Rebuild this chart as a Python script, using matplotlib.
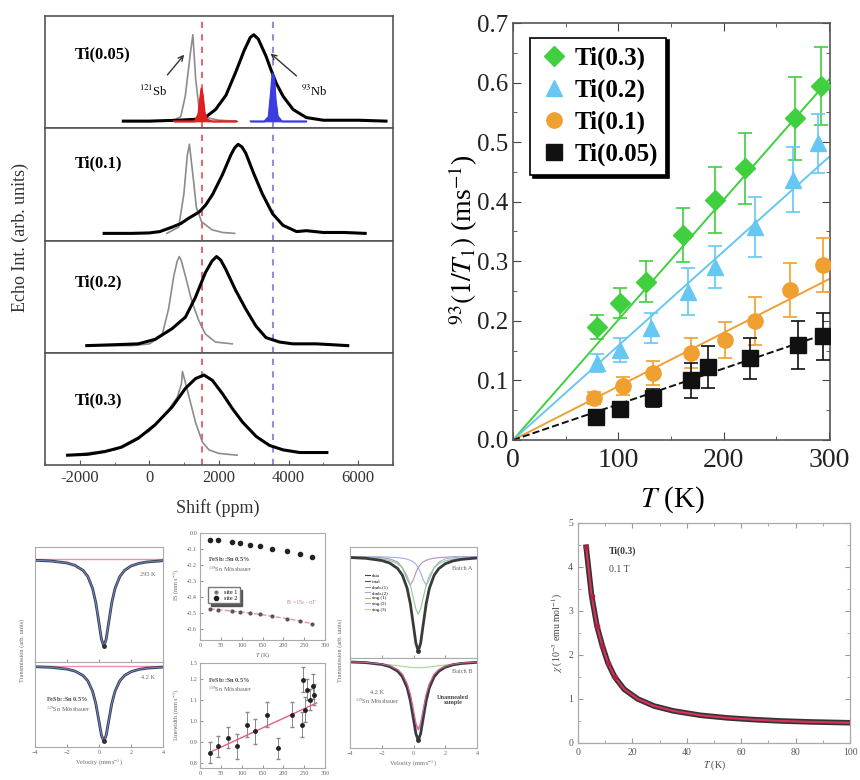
import matplotlib
matplotlib.use('Agg')
import matplotlib.pyplot as plt
from matplotlib.lines import Line2D
from matplotlib.ticker import MultipleLocator

plt.rcParams['font.family'] = ['Liberation Serif', 'DejaVu Serif']
plt.rcParams['mathtext.fontset'] = 'stix'

# ---------------- NMR spectra (top left) ----------------
panel_names = ['Ti(0.05)', 'Ti(0.1)', 'Ti(0.2)', 'Ti(0.3)']

shift_005 = [-750, 0, 800, 1300, 1600, 1900, 2200, 2480, 2720, 2900, 3000, 3130, 3350, 3500, 3640,
             3840, 4130, 4510, 5000, 6000, 6800]
echo_005 = [0.0, 0.0, 0.01, 0.02, 0.04, 0.13, 0.29, 0.55, 0.79, 0.94, 0.97, 0.92, 0.73, 0.57, 0.43,
            0.28, 0.13, 0.04, 0.01, 0.01, 0.0]
ref_shift_005 = [0, 650, 900, 1030, 1180, 1250, 1330, 1430, 1620, 2000, 2500]
ref_echo_005 = [0.0, 0.0, 0.05, 0.28, 0.77, 0.97, 0.47, 0.13, 0.04, 0.01, 0.0]
red_shift = [700, 1300, 1400, 1450, 1490, 1530, 1580, 1650, 1800, 2500]
red_echo = [0.0, 0.0, 0.08, 0.25, 0.37, 0.29, 0.10, 0.02, 0.0, 0.0]
blue_shift = [2900, 3300, 3420, 3480, 3530, 3580, 3620, 3680, 3800, 4500]
blue_echo = [0.0, 0.0, 0.05, 0.30, 0.54, 0.49, 0.25, 0.06, 0.0, 0.0]

shift_01 = [-1300, -500, 0, 300, 650, 900, 1130, 1430, 1620, 1820, 2100, 2340, 2450, 2550, 2660,
            2770, 3010, 3250, 3540, 3840, 4230, 4510, 5000, 5600, 6200]
echo_01 = [0.0, 0.0, 0.005, 0.02, 0.07, 0.11, 0.17, 0.24, 0.32, 0.44, 0.66, 0.88, 0.96, 1.0, 0.97,
           0.90, 0.66, 0.44, 0.22, 0.09, 0.02, 0.03, 0.01, 0.01, 0.0]
ref_shift_01 = [500, 840, 990, 1090, 1150, 1260, 1350, 1500, 1800, 2100, 2450]
ref_echo_01 = [0.0, 0.07, 0.44, 0.88, 1.0, 0.62, 0.29, 0.13, 0.04, 0.01, 0.0]

shift_02 = [-1800, -1000, -320, 160, 650, 1035, 1320, 1610, 1800, 1930, 2050, 2190, 2480, 2770,
            3060, 3350, 3740, 4120, 4800, 5700]
echo_02 = [0.0, 0.01, 0.02, 0.07, 0.19, 0.32, 0.54, 0.82, 0.95, 1.0, 0.96, 0.86, 0.62, 0.41,
           0.22, 0.09, 0.04, 0.02, 0.02, 0.0]
ref_shift_02 = [-1800, -500, 0, 360, 550, 700, 800, 860, 920, 1035, 1225, 1420, 1610, 1900, 2380]
ref_echo_02 = [0.0, 0.0, 0.02, 0.11, 0.41, 0.78, 0.95, 1.0, 0.95, 0.78, 0.49, 0.28, 0.13, 0.04, 0.02]

shift_03 = [-2350, -1770, -1290, -800, -320, 160, 650, 1035, 1325, 1570, 1810, 2100, 2390, 2680,
            3070, 3450, 3840, 4320, 5100]
echo_03 = [0.03, 0.04, 0.07, 0.12, 0.22, 0.37, 0.57, 0.78, 0.89, 0.93, 0.87, 0.72, 0.55, 0.40,
           0.24, 0.14, 0.09, 0.06, 0.06]
ref_shift_03 = [-2350, -1000, 0, 500, 800, 920, 950, 1130, 1325, 1520, 1710, 2000, 2520]
ref_echo_03 = [0.03, 0.09, 0.30, 0.51, 0.68, 0.83, 0.97, 0.70, 0.40, 0.18, 0.09, 0.05, 0.03]

spectra = [(shift_005, echo_005, ref_shift_005, ref_echo_005),
           (shift_01, echo_01, ref_shift_01, ref_echo_01),
           (shift_02, echo_02, ref_shift_02, ref_echo_02),
           (shift_03, echo_03, ref_shift_03, ref_echo_03)]
label_y = [0.75, 0.79, 0.71, 0.65]
red_line_shift = 1500
blue_line_shift = 3550

# ---------------- 1/T1 vs T (top right) ----------------
T_03 = [80, 102, 126, 161, 192, 220, 268, 292]
r_03 = [0.19, 0.23, 0.266, 0.344, 0.403, 0.456, 0.54, 0.594]
e_03 = [0.02, 0.025, 0.035, 0.045, 0.055, 0.06, 0.07, 0.065]
T_02 = [80, 102, 131, 166, 192, 230, 266, 290]
r_02 = [0.129, 0.151, 0.188, 0.249, 0.29, 0.358, 0.437, 0.498]
e_02 = [0.015, 0.02, 0.025, 0.04, 0.035, 0.05, 0.055, 0.05]
T_01 = [77, 104, 133, 169, 201, 230, 263, 294]
r_01 = [0.07, 0.09, 0.112, 0.146, 0.168, 0.2, 0.252, 0.294]
e_01 = [0.01, 0.015, 0.02, 0.025, 0.03, 0.04, 0.045, 0.045]
T_005 = [79, 102, 133, 169, 185, 225, 271, 294]
r_005 = [0.039, 0.052, 0.07, 0.1, 0.123, 0.137, 0.16, 0.174]
e_005 = [0.005, 0.008, 0.015, 0.03, 0.035, 0.035, 0.04, 0.04]
T_fit = [0, 300]
fit_03 = [0, 0.605]
fit_02 = [0, 0.475]
fit_01 = [0, 0.27]
fit_005 = [0, 0.18]

# ---------------- Mossbauer-type small panels (bottom left) ----------------
vel = [-4, -3, -2, -1.5, -1, -0.7, -0.4, -0.2, 0, 0.15, 0.3, 0.45, 0.6, 0.8, 1.0, 1.3, 1.6, 2, 2.5, 3, 4]
trans_c1 = [0.990, 0.984, 0.968, 0.948, 0.907, 0.856, 0.757, 0.640, 0.471, 0.340, 0.280, 0.340, 0.471,
            0.640, 0.757, 0.856, 0.907, 0.943, 0.965, 0.976, 0.987]
trans_c2 = [0.989, 0.982, 0.963, 0.941, 0.894, 0.836, 0.723, 0.590, 0.397, 0.248, 0.180, 0.248, 0.397,
            0.590, 0.723, 0.836, 0.894, 0.935, 0.960, 0.973, 0.985]
comp_green = [0.993, 0.989, 0.977, 0.964, 0.936, 0.900, 0.831, 0.750, 0.633, 0.542, 0.500, 0.542, 0.633,
              0.750, 0.831, 0.900, 0.936, 0.960, 0.975, 0.983, 0.991]
comp_purple = [0.997, 0.995, 0.988, 0.978, 0.950, 0.902, 0.800, 0.750, 0.800, 0.858, 0.902, 0.931, 0.950,
               0.965, 0.975, 0.983, 0.988, 0.992, 0.995, 0.996, 0.998]
comp_pink = [0.990, 0.984, 0.968, 0.950, 0.910, 0.860, 0.760, 0.650, 0.480, 0.350, 0.290, 0.350, 0.480,
             0.650, 0.760, 0.860, 0.910, 0.945, 0.966, 0.977, 0.988]
comp_wide = [0.985, 0.978, 0.968, 0.960, 0.950, 0.944, 0.938, 0.934, 0.931, 0.930, 0.929, 0.930, 0.931,
             0.934, 0.938, 0.944, 0.950, 0.958, 0.967, 0.975, 0.985]
f_legend = ['data', 'total', 'doub.(1)', 'doub.(2)', 'sing.(1)', 'sing.(2)', 'sing.(3)']
f_colors = ['#444444', '#555555', '#b08fc0', '#9fb0e0', '#90c890', '#c0a0d0', '#b8d890']

temp_d = [24, 44, 76, 96, 120, 144, 172, 208, 240, 268]
site1_d = [0.938, 0.932, 0.917, 0.905, 0.892, 0.877, 0.855, 0.83, 0.80, 0.778]
site2_d = [0.292, 0.283, 0.271, 0.262, 0.252, 0.240, 0.222, 0.200, 0.178, 0.154]

temp_e = [24, 44, 68, 88, 112, 132, 160, 188, 220, 244, 248, 256, 252, 264, 272, 274]
width_e = [0.143, 0.206, 0.286, 0.206, 0.413, 0.349, 0.508, 0.190, 0.508, 0.413, 0.841, 0.746, 0.556,
           0.651, 0.778, 0.698]
err_e = [0.10, 0.10, 0.10, 0.12, 0.12, 0.12, 0.12, 0.10, 0.12, 0.12, 0.12, 0.10, 0.12, 0.10, 0.12, 0.10]
line_e_T = [24, 280]
line_e_w = [0.15, 0.62]

# ---------------- susceptibility (bottom right) ----------------
T_chi = [3, 5, 7, 9, 11, 13.5, 17, 22, 28, 35, 45, 55, 65, 75, 85, 100]
chi = [4.45, 3.35, 2.65, 2.2, 1.82, 1.5, 1.22, 1.0, 0.84, 0.73, 0.63, 0.57, 0.53, 0.5, 0.48, 0.46]

W, H = 860, 780
fig = plt.figure(figsize=(W / 100, H / 100), dpi=100)


def px_axes(l, t, r, b):
    return fig.add_axes([l / W, 1 - b / H, (r - l) / W, (b - t) / H])


# ===== NMR spectra =====
sub_h = (465 - 16) / 4
axes_a = []
for i, (sx, sy, rx, ry) in enumerate(spectra):
    ax = px_axes(45, 16 + i * sub_h, 393, 16 + (i + 1) * sub_h)
    axes_a.append(ax)
    ax.plot(rx, ry, color='#8c8c8c', lw=1.2, zorder=2)
    ax.plot(sx, sy, color='black', lw=2.2, zorder=3)
    ax.axvline(red_line_shift, color='#e0505a', lw=1.5, ls=(0, (3, 3)), alpha=0.85, zorder=1)
    ax.axvline(blue_line_shift, color='#7c7cd8', lw=1.5, ls=(0, (3, 3)), alpha=0.85, zorder=1)
    ax.set_xlim(-3000, 7000)
    ax.set_ylim(-0.08, 1.18)
    ax.set_yticks([])
    ax.text(-2150, label_y[i], panel_names[i], fontsize=12, fontweight='bold', va='center')
    for s in ax.spines.values():
        s.set_color('#555555')
        s.set_linewidth(1.2)
    ax.xaxis.set_major_locator(MultipleLocator(2000))
    ax.xaxis.set_minor_locator(MultipleLocator(1000))
    ax.tick_params(axis='x', which='both', direction='in', colors='#555555', labelsize=12,
                   labelcolor='#333333')
    if i < 3:
        ax.tick_params(axis='x', which='both', length=0, labelbottom=False)

ax0 = axes_a[0]
ax0.fill_between(red_shift, red_echo, color='#e02020', lw=1, zorder=4)
ax0.plot(red_shift, red_echo, color='#e02020', lw=1, zorder=4)
ax0.fill_between(blue_shift, blue_echo, color='#3c3ce0', lw=1, zorder=4)
ax0.plot(blue_shift, blue_echo, color='#3c3ce0', lw=1, zorder=4)
ax0.annotate('$^{121}$Sb', xy=(1050, 0.77), xytext=(120, 0.33), fontsize=9, ha='center', va='center',
             arrowprops=dict(arrowstyle='->', color='#333333', lw=1.0, shrinkA=6))
ax0.annotate('$^{93}$Nb', xy=(3420, 0.78), xytext=(4750, 0.33), fontsize=9, ha='center', va='center',
             arrowprops=dict(arrowstyle='->', color='#333333', lw=1.0, shrinkA=6))
axes_a[3].set_xticks([-2000, 0, 2000, 4000, 6000])
axes_a[3].set_xticklabels(['-2000', '0', '2000', '4000', '6000'])
fig.text(218 / W, 1 - 508 / H, 'Shift (ppm)', fontsize=13, ha='center', va='center', color='#333333')
fig.text(20 / W, 1 - 238 / H, 'Echo Int. (arb. units)', fontsize=13, rotation=90, ha='center',
         va='center', color='#333333')

# ===== 1/T1 vs T =====
axb = px_axes(513, 23, 830, 440)
series = [(T_03, r_03, e_03, fit_03, '#3fcf3f', 'D', 'Ti(0.3)', 10),
          (T_02, r_02, e_02, fit_02, '#66c8f2', '^', 'Ti(0.2)', 11),
          (T_01, r_01, e_01, fit_01, '#f0a030', 'o', 'Ti(0.1)', 11),
          (T_005, r_005, e_005, fit_005, '#111111', 's', 'Ti(0.05)', 11)]
handles = []
for tx, ry, ey, fy, col, mk, lab, ms in series:
    ls = '--' if col == '#111111' else '-'
    axb.plot(T_fit, fy, color=col, lw=1.4, ls=ls, zorder=2)
    axb.errorbar(tx, ry, yerr=ey, fmt=mk, color=col, ms=ms, mec=col, ecolor=col, elinewidth=1.2,
                 capsize=5, capthick=1.2, zorder=3)
    handles.append(Line2D([], [], ls='none', marker=mk, color=col, ms=ms, label=lab))
axb.set_xlim(0, 301)
axb.set_ylim(0, 0.7)
axb.xaxis.set_major_locator(MultipleLocator(100))
axb.xaxis.set_minor_locator(MultipleLocator(50))
axb.yaxis.set_major_locator(MultipleLocator(0.1))
axb.yaxis.set_minor_locator(MultipleLocator(0.05))
axb.yaxis.set_major_formatter(matplotlib.ticker.FormatStrFormatter('%.1f'))
axb.tick_params(which='both', direction='in', top=True, right=True, colors='#444444')
axb.tick_params(which='major', length=6)
axb.tick_params(which='minor', length=3)
axb.tick_params(axis='y', labelsize=18, labelcolor='#222222')
axb.tick_params(axis='x', labelsize=20, labelcolor='#222222', pad=6)
for s in axb.spines.values():
    s.set_color('#555555')
    s.set_linewidth(1.2)
leg = axb.legend(handles=handles, loc='upper left', bbox_to_anchor=(0.055, 0.965), borderaxespad=0,
                 frameon=True, fancybox=False, shadow={'color': 'black', 'alpha': 1},
                 prop={'size': 18, 'weight': 'bold'}, handletextpad=0.2, labelspacing=0.35,
                 handlelength=1.2, borderpad=0.35)
leg.get_frame().set_edgecolor('black')
leg.get_frame().set_linewidth(1.2)
fig.text(463 / W, 1 - 240 / H, '$^{93}$$(1/T_1)$ (ms$^{-1}$)', fontsize=20, rotation=90, ha='center',
         va='center')
fig.text(672 / W, 1 - 500 / H, '$T$ (K)', fontsize=21, ha='center', va='center')

# ===== small panels: common styling =====
tiny = 4.5
grey_txt = '#666666'


def tiny_style(ax):
    ax.tick_params(which='both', direction='in', labelsize=tiny, length=2, colors='#999999',
                   labelcolor=grey_txt, pad=2)
    for s in ax.spines.values():
        s.set_color('#aaaaaa')
        s.set_linewidth(0.8)


# C: two stacked spectra
axc1 = px_axes(35, 547, 163, 662)
axc2 = px_axes(35, 662, 163, 747)
for ax, tr, lab in [(axc1, trans_c1, '295 K'), (axc2, trans_c2, '4.2 K')]:
    ax.axhline(1.0, color='#f08cb0', lw=1.0)
    ax.plot(vel, tr, color='#3a3a4a', lw=2.0)
    ax.plot(vel, tr, color='#7090d0', lw=0.7)
    ax.plot([vel[10]], [tr[10]], 'o', color='#333333', ms=2.5)
    ax.set_xlim(-4, 4)
    ax.set_yticks([])
    ax.text(3.5, 0.86, lab, fontsize=tiny, ha='right', color=grey_txt)
    tiny_style(ax)
axc1.set_ylim(0.15, 1.1)
axc2.set_ylim(0.12, 1.04)
axc1.set_xticks([-4, -2, 0, 2, 4])
axc1.tick_params(labelbottom=False)
axc2.set_xticks([-4, -2, 0, 2, 4])
axc2.text(-3.3, 0.62, 'FeSb$_2$:Sn 0.5%', fontsize=tiny, fontweight='bold', color='#444444')
axc2.text(-3.3, 0.50, '$^{119}$Sn Mössbauer', fontsize=tiny, color=grey_txt)
axc2.set_xlabel('Velocity (mm s$^{-1}$)', fontsize=tiny, color=grey_txt, labelpad=2)
fig.text(22 / W, 1 - 650 / H, 'Transmission (arb. units)', fontsize=tiny, rotation=90, ha='center',
         va='center', color=grey_txt)

# D: temperature dependence of two sites
axd = px_axes(200, 533, 325, 640)
axd.plot(temp_d, site1_d, 'o', color='#222222', ms=3)
axd.plot(temp_d, site2_d, '--', color='#f090b0', lw=1.0)
axd.plot(temp_d, site2_d, 'o', color='#555555', ms=2)
axd.set_xlim(0, 300)
axd.set_ylim(0, 1)
axd.set_xticks([0, 50, 100, 150, 200, 250, 300])
axd.set_yticks([0.1, 0.25, 0.4, 0.55, 0.7, 0.85, 1.0])
axd.set_yticklabels(['-0.6', '-0.5', '-0.4', '-0.3', '-0.2', '-0.1', '0.0'])
tiny_style(axd)
axd.text(20, 0.74, 'FeSb$_2$:Sn 0.5%', fontsize=tiny, fontweight='bold', color='#444444')
axd.text(20, 0.64, '$^{119}$Sn Mössbauer', fontsize=tiny, color=grey_txt)
axd.text(280, 0.34, 'IS = IS$_0$ - $\\alpha T$', fontsize=tiny - 0.5, ha='right', color='#c08090')
axd.legend(handles=[Line2D([], [], ls='none', marker='o', ms=2, color='#777777', label='site 1'),
                    Line2D([], [], ls='none', marker='o', ms=3, color='#222222', label='site 2')],
           loc='upper left', bbox_to_anchor=(0.04, 0.52), prop={'size': tiny}, fancybox=False,
           shadow={'color': '#555555', 'alpha': 1}, edgecolor='#777777', borderpad=0.3,
           handletextpad=0.3, labelspacing=0.2)
axd.set_xlabel('$T$ (K)', fontsize=tiny, color=grey_txt, labelpad=2)
fig.text(177 / W, 1 - 585 / H, 'IS (mm s$^{-1}$)', fontsize=tiny, rotation=90, ha='center', va='center',
         color=grey_txt)

# E: linewidth vs T
axe = px_axes(200, 663, 325, 768)
axe.errorbar(temp_e, width_e, yerr=err_e, fmt='o', color='#222222', ms=2.5, ecolor='#888888',
             elinewidth=0.7, capsize=1.5)
axe.plot(line_e_T, line_e_w, color='#e06080', lw=1.0)
axe.set_xlim(0, 300)
axe.set_ylim(0, 1)
axe.set_xticks([0, 50, 100, 150, 200, 250, 300])
axe.set_yticks([0.05, 0.25, 0.45, 0.65, 0.85, 1.0])
axe.set_yticklabels(['0.8', '0.9', '1.0', '1.1', '1.2', '1.3'])
tiny_style(axe)
axe.text(20, 0.82, 'FeSb$_2$:Sn 0.5%', fontsize=tiny, fontweight='bold', color='#444444')
axe.text(20, 0.72, '$^{119}$Sn Mössbauer', fontsize=tiny, color=grey_txt)
fig.text(177 / W, 1 - 715 / H, 'Linewidth (mm s$^{-1}$)', fontsize=tiny, rotation=90, ha='center',
         va='center', color=grey_txt)

# F: fitted components
axf1 = px_axes(350, 547, 477, 658)
axf2 = px_axes(350, 658, 477, 748)
axf1.plot(vel, comp_purple, color=f_colors[2], lw=0.8)
axf1.plot(vel, comp_purple[::-1], color=f_colors[3], lw=0.8)
axf1.plot(vel, comp_green, color=f_colors[4], lw=0.8)
axf1.plot(vel, trans_c2, color='#3a3a3a', lw=2.0)
axf1.plot([vel[10]], [trans_c2[10]], 'o', color='#333333', ms=2.5)
axf2.plot(vel, comp_wide, color='#a0d890', lw=0.8)
axf2.plot(vel, comp_pink, color='#e07090', lw=1.2)
axf2.plot(vel, trans_c2, color='#3a3a4a', lw=2.0)
axf2.plot(vel, comp_pink, color='#e07090', lw=0.6)
axf2.plot([vel[10]], [trans_c2[10]], 'o', color='#333333', ms=2.5)
for ax in (axf1, axf2):
    ax.set_xlim(-4, 4)
    ax.set_yticks([])
    ax.set_xticks([-4, -2, 0, 2, 4])
    tiny_style(ax)
axf1.set_ylim(0.12, 1.08)
axf2.set_ylim(0.1, 1.03)
axf1.tick_params(labelbottom=False)
axf1.legend(handles=[Line2D([], [], color=c, lw=0.8, label=t) for c, t in zip(f_colors, f_legend)],
            loc='upper left', bbox_to_anchor=(0.08, 0.8), frameon=False, prop={'size': 3.5},
            handlelength=1.2, handletextpad=0.3, labelspacing=0.25)
axf1.text(3.7, 0.88, 'Batch A', fontsize=tiny, ha='right', color=grey_txt)
axf2.text(3.7, 0.88, 'Batch B', fontsize=tiny, ha='right', color=grey_txt)
axf2.text(-2.3, 0.55, '4.2 K\n$^{119}$Sn Mössbauer', fontsize=tiny, ha='center', color=grey_txt,
          linespacing=1.2)
axf2.text(2.5, 0.55, 'Unannealed\nsample', fontsize=tiny, ha='center', color='#444444',
          fontweight='bold', linespacing=1.2)
axf2.set_xlabel('Velocity (mm s$^{-1}$)', fontsize=tiny, color=grey_txt, labelpad=2)
fig.text(340 / W, 1 - 650 / H, 'Transmission (arb. units)', fontsize=tiny, rotation=90, ha='center',
         va='center', color=grey_txt)

# ===== susceptibility =====
axg = px_axes(578, 523, 850, 743)
axg.plot(T_chi, chi, color='#333333', lw=4.0, zorder=2)
axg.plot(T_chi, chi, color='#d8305a', lw=1.6, zorder=3)
axg.plot(T_chi[:6], chi[:6], 'o', color='#b02040', ms=3, zorder=4)
axg.set_xlim(0, 100)
axg.set_ylim(0, 5)
axg.xaxis.set_major_locator(MultipleLocator(20))
axg.xaxis.set_minor_locator(MultipleLocator(10))
axg.yaxis.set_major_locator(MultipleLocator(1))
axg.yaxis.set_minor_locator(MultipleLocator(0.5))
axg.tick_params(which='both', direction='in', top=True, right=True, labelsize=7, colors='#999999',
                labelcolor='#555555')
for s in axg.spines.values():
    s.set_color('#aaaaaa')
    s.set_linewidth(0.9)
axg.text(11.5, 4.35, 'Ti(0.3)', fontsize=7, fontweight='bold', color='#333333', va='center')
axg.text(11.5, 3.95, '0.1 T', fontsize=7, color='#444444', va='center')
axg.set_xlabel('$T$ (K)', fontsize=7, color='#444444', labelpad=1)
axg.set_ylabel('$\\chi$ (10$^{-3}$ emu mol$^{-1}$)', fontsize=7, color='#444444', labelpad=2)

fig.savefig('out.png', dpi=100)
